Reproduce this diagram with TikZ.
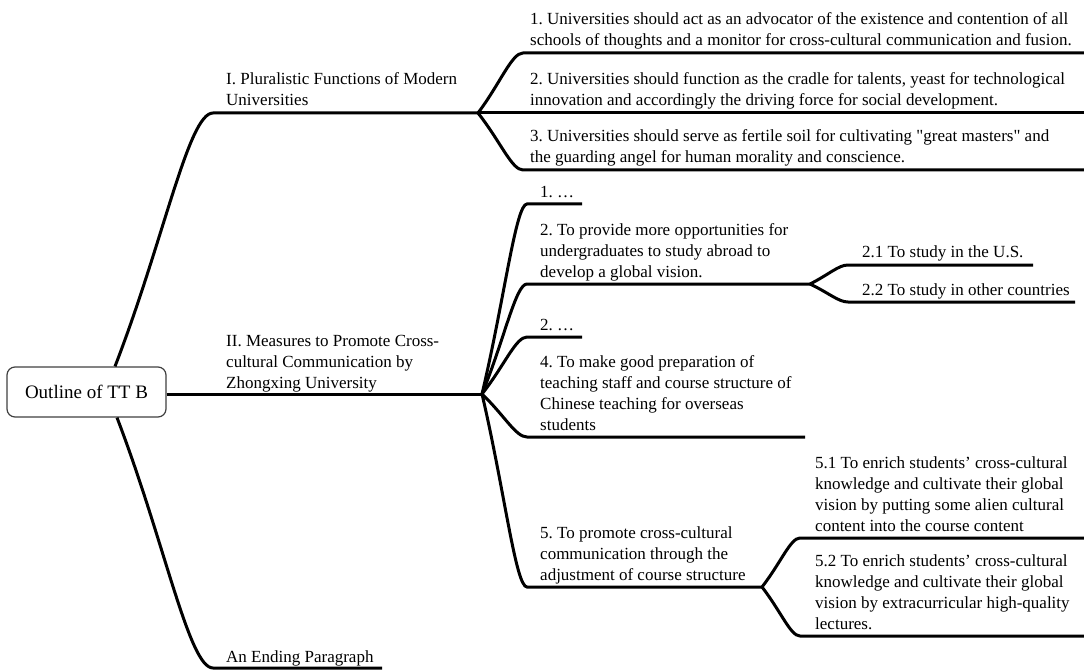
\documentclass[tikz,border=0pt]{standalone}
\usepackage{fontspec}
\setmainfont{Liberation Serif}[Ligatures=TeXOff]
\usetikzlibrary{calc}
\frenchspacing
\tikzset{
  branch/.style={line width=3pt, draw=black},
  txt/.style={anchor=base west, inner sep=0pt, align=left, font=\fontsize{17}{21}\selectfont\frenchspacing},
  rootbox/.style={draw=black!75, line width=1.2pt, rounded corners=8pt, fill=white,
    minimum width=159pt, minimum height=50pt, inner sep=0pt, font=\fontsize{19}{23}\selectfont},
}
\newcommand\mmcurve[3]{\draw[branch] let \p1=(#1), \p2=(#2) in (#1) .. controls ($(#1)!0.5!(#2)$) and ({\x2-0.25*(\x2-\x1)},\y2) .. (#2) -- (#3);}
\begin{document}
\begin{tikzpicture}[x=1pt,y=-1pt]
\useasboundingbox (0,0) rectangle (1084,671);
% root
\node[rootbox] (root) at (86.5,392) {Outline of TT B};
\coordinate (rtop) at ([xshift=28.5pt]root.north);
\coordinate (rbot) at ([xshift=30.5pt]root.south);
% main branches
\coordinate (Is) at (213,113);
\coordinate (fanI) at (478,113);
\coordinate (fanII) at (482,394);
\coordinate (IIIs) at (213,668);
\coordinate (IIIe) at (382,668);
\mmcurve{rtop}{Is}{fanI}
\draw[branch] (root.east |- fanII) -- (fanII);
\mmcurve{rbot}{IIIs}{IIIe}
\node[txt] (tI) at (226,106) {I. Pluralistic Functions of Modern\\Universities};
\node[txt] (tII) at (226,388) {II. Measures to Promote Cross-\\cultural Communication by\\Zhongxing University};
\node[txt] (tIII) at (226,662) {An Ending Paragraph};
% children of I
\coordinate (c1s) at (523,53);  \coordinate (c1e) at (1084,53);
\coordinate (c2e) at (1084,113);
\coordinate (c3s) at (523,170); \coordinate (c3e) at (1084,170);
\mmcurve{fanI}{c1s}{c1e}
\draw[branch] (fanI) -- (c2e);
\mmcurve{fanI}{c3s}{c3e}
\node[txt] (t1) at (530,46) {1. Universities should act as an advocator of the existence and contention of all\\schools of thoughts and a monitor for cross-cultural communication and fusion.};
\node[txt] (t2) at (530,106) {2. Universities should function as the cradle for talents, yeast for technological\\innovation and accordingly the driving force for social development.};
\node[txt] (t3) at (530,163) {3. Universities should serve as fertile soil for cultivating "great masters" and\\the guarding angel for human morality and conscience.};
% children of II
\coordinate (as) at (527,204); \coordinate (ae) at (582,204);
\coordinate (bs) at (527,284); \coordinate (fanB) at (810,284);
\coordinate (cs) at (527,337); \coordinate (ce) at (582,337);
\coordinate (ds) at (527,437); \coordinate (de) at (805,437);
\coordinate (es) at (527,587); \coordinate (fanE) at (762,587);
\mmcurve{fanII}{as}{ae}
\mmcurve{fanII}{bs}{fanB}
\mmcurve{fanII}{cs}{ce}
\mmcurve{fanII}{ds}{de}
\mmcurve{fanII}{es}{fanE}
\node[txt] (ta) at (540,197) {1. …};
\node[txt] (tb) at (540,277) {2. To provide more opportunities for\\undergraduates to study abroad to\\develop a global vision.};
\node[txt] (tc) at (540,330) {2. …};
\node[txt] (td) at (540,430) {4. To make good preparation of\\teaching staff and course structure of\\Chinese teaching for overseas\\students};
\node[txt] (te) at (540,580) {5. To promote cross-cultural\\communication through the\\adjustment of course structure};
% children of 2
\coordinate (b1s) at (848,265); \coordinate (b1e) at (1033,265);
\coordinate (b2s) at (848,302); \coordinate (b2e) at (1075,302);
\mmcurve{fanB}{b1s}{b1e}
\mmcurve{fanB}{b2s}{b2e}
\node[txt] (tb1) at (862,258) {2.1 To study in the U.S.};
\node[txt] (tb2) at (862,295) {2.2 To study in other countries};
% children of 5
\coordinate (e1s) at (800,538); \coordinate (e1e) at (1084,538);
\coordinate (e2s) at (800,636); \coordinate (e2e) at (1084,636);
\mmcurve{fanE}{e1s}{e1e}
\mmcurve{fanE}{e2s}{e2e}
\node[txt] (te1) at (815,531) {5.1 To enrich students’ cross-cultural\\knowledge and cultivate their global\\vision by putting some alien cultural\\content into the course content};
\node[txt] (te2) at (815,629) {5.2 To enrich students’ cross-cultural\\knowledge and cultivate their global\\vision by extracurricular high-quality\\lectures.};
\end{tikzpicture}
\end{document}
